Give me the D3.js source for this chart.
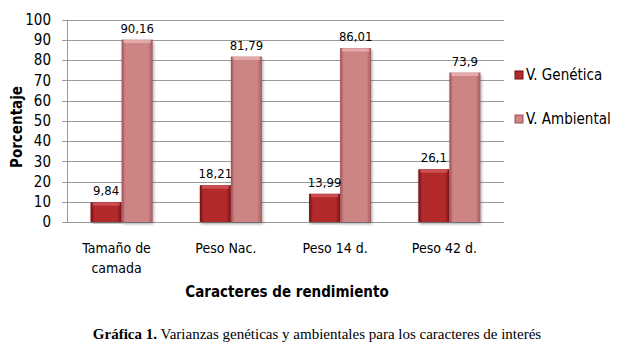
<!DOCTYPE html>
<html><head><meta charset="utf-8">
<script src="https://cdn.jsdelivr.net/npm/d3@7"></script>
<style>body{margin:0;background:#fff}svg{display:block}</style>
</head><body>
<script>
const categories = [["Tamaño de","camada"],["Peso Nac."],["Peso 14 d."],["Peso 42 d."]];
const seriesNames = ["V. Genética","V. Ambiental"];
const genetica = [9.84, 18.21, 13.99, 26.1];
const ambiental = [90.16, 81.79, 86.01, 73.9];
const valueLabels = [["9,84","90,16"],["18,21","81,79"],["13,99","86,01"],["26,1","73,9"]];
const yTicks = [0,10,20,30,40,50,60,70,80,90,100];

const W=624,H=360;
const m={l:67,r:120,t:19.7,b:138};
const svg=d3.select("body").append("svg").attr("width",W).attr("height",H);
const defs=svg.append("defs");
const cols=[["#6e0d10","#b32a2c","#7a1215"],["#9e4f52","#cd8485","#a55a5c"]];
cols.forEach((c,i)=>{
  const g=defs.append("linearGradient").attr("id","g"+i).attr("x1",0).attr("x2",1).attr("y1",0).attr("y2",0);
  g.append("stop").attr("offset","0%").attr("stop-color",c[0]);
  g.append("stop").attr("offset","12%").attr("stop-color",c[1]);
  g.append("stop").attr("offset","85%").attr("stop-color",c[1]);
  g.append("stop").attr("offset","100%").attr("stop-color",c[2]);
});
const sh=defs.append("filter").attr("id","sh").attr("x","-20%").attr("y","-5%").attr("width","140%").attr("height","115%");
sh.append("feGaussianBlur").attr("in","SourceAlpha").attr("stdDeviation",1.5);
sh.append("feOffset").attr("dx",1).attr("dy",2).attr("result","b");
sh.append("feComponentTransfer").append("feFuncA").attr("type","linear").attr("slope",0.35);
const mg=sh.append("feMerge");mg.append("feMergeNode");mg.append("feMergeNode").attr("in","SourceGraphic");

const x0=d3.scaleBand().domain(d3.range(categories.length)).range([m.l,504]);
const x1=d3.scaleBand().domain([0,1]).range([0,x0.bandwidth()]).paddingOuter(0.76);
const y=d3.scaleLinear().domain([0,100]).range([222,m.t]);

const cond="'DejaVu Sans Condensed','DejaVu Sans',sans-serif";
// grid
svg.append("g").selectAll("line").data(yTicks).join("line")
  .attr("x1",62).attr("x2",504).attr("y1",d=>Math.round(y(d))+0.5).attr("y2",d=>Math.round(y(d))+0.5)
  .attr("stroke","#9a9a9a").attr("stroke-width",1);
svg.append("line").attr("x1",m.l+0.5).attr("x2",m.l+0.5).attr("y1",y(100)).attr("y2",y(0)).attr("stroke","#9a9a9a");
// y tick labels
svg.append("g").selectAll("text").data(yTicks).join("text")
  .attr("x",51).attr("y",d=>y(d)).attr("dy","0.35em").attr("text-anchor","end")
  .attr("font-family",cond).attr("font-size",15).attr("fill","#000")
  .text(d=>d);

const data=categories.map((c,i)=>[genetica[i],ambiental[i]]);
const gr=svg.append("g").selectAll("g").data(data).join("g").attr("transform",(d,i)=>`translate(${x0(i)},0)`);
gr.selectAll("rect").data(d=>d).join("rect")
  .attr("x",(d,j)=>x1(j)).attr("width",x1.bandwidth())
  .attr("y",d=>y(d)).attr("height",d=>y(0)-y(d))
  .attr("fill",(d,j)=>`url(#g${j})`).attr("filter","url(#sh)");
// top bevel
gr.selectAll("rect.top").data(d=>d).join("rect").attr("class","top")
  .attr("x",(d,j)=>x1(j)+2).attr("width",x1.bandwidth()-4)
  .attr("y",d=>y(d)+0.5).attr("height",3)
  .attr("fill",(d,j)=>j?"#e8b4b4":"#d55a5c").attr("opacity",0.8);
gr.selectAll("text").data((d,i)=>d.map((v,j)=>[v,valueLabels[i][j]])).join("text")
  .attr("x",(d,j)=>x1(j)+x1.bandwidth()/2).attr("y",d=>y(d[0])-7)
  .attr("text-anchor","middle").attr("font-family",cond).attr("font-size",13).attr("fill","#000")
  .text(d=>d[1]);

// category labels
const cl=svg.append("g").selectAll("text").data(categories).join("text")
  .attr("x",(d,i)=>x0(i)+x0.bandwidth()/2-5).attr("y",253)
  .attr("text-anchor","middle").attr("font-family",cond).attr("font-size",14).attr("fill","#000");
cl.selectAll("tspan").data(d=>d).join("tspan").attr("x",function(){return this.parentNode.getAttribute("x");})
  .attr("dy",(d,k)=>k?20:0).text(d=>d);

// axis titles
svg.append("text").attr("x",287).attr("y",297).attr("text-anchor","middle")
  .attr("font-family",cond).attr("font-weight","bold").attr("font-size",15).text("Caracteres  de rendimiento");
svg.append("text").attr("transform","translate(22,127) rotate(-90)").attr("text-anchor","middle")
  .attr("font-family",cond).attr("font-weight","bold").attr("font-size",15).text("Porcentaje");

// legend
const lg=svg.append("g").selectAll("g").data(seriesNames).join("g").attr("transform",(d,i)=>`translate(515,${75+i*44})`);
lg.append("rect").attr("x",0).attr("y",-4).attr("width",8).attr("height",8).attr("fill",(d,i)=>cols[i][1]).attr("stroke",(d,i)=>cols[i][0]).attr("stroke-width",1);
lg.append("text").attr("x",11).attr("y",0).attr("dy","0.35em").attr("font-family",cond).attr("font-size",15).text(d=>d);

// caption
const cap=svg.append("text").attr("x",317).attr("y",339).attr("text-anchor","middle")
  .attr("font-family","'Liberation Serif','Times New Roman',serif").attr("font-size",15);
cap.append("tspan").attr("font-weight","bold").text("Gráfica 1.");
cap.append("tspan").text(" Varianzas genéticas y ambientales para los caracteres de interés");
</script>
</body></html>
